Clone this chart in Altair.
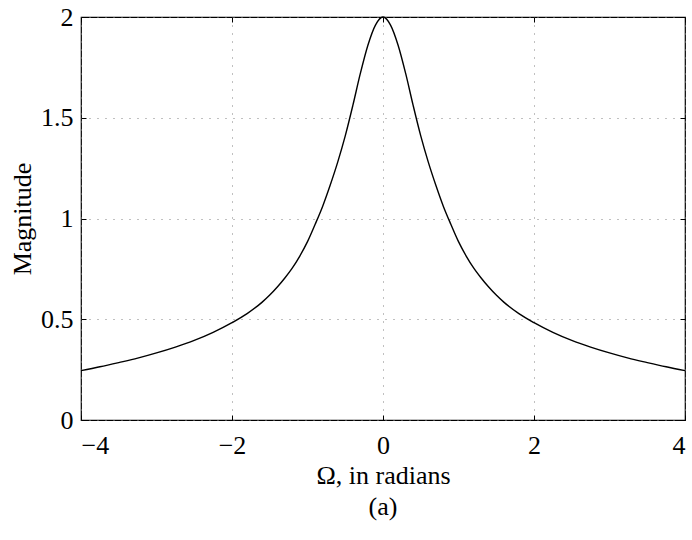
import altair as alt
import pandas as pd

# Magnitude of the response, read at positive frequencies (radians);
# the response is even, so the negative half mirrors it.
omega_pos = [0.0, 0.1, 0.2, 0.3, 0.4, 0.5, 0.6, 0.7, 0.8, 0.9, 1.0, 1.1, 1.2, 1.3,
             1.4, 1.5, 1.6, 1.8, 2.0, 2.25, 2.5, 2.75, 3.0, 3.25, 3.5, 3.75, 4.0]
magnitude_pos = [2.0, 1.96, 1.86, 1.72, 1.56, 1.41, 1.28, 1.165, 1.06, 0.97, 0.885,
                 0.815, 0.755, 0.705, 0.66, 0.62, 0.585, 0.528, 0.483, 0.435, 0.395,
                 0.362, 0.333, 0.307, 0.285, 0.264, 0.245]

omega = [-w for w in reversed(omega_pos[1:])] + omega_pos
magnitude = list(reversed(magnitude_pos[1:])) + magnitude_pos

x_ticks = [-4, -2, 0, 2, 4]
y_ticks = [0, 0.5, 1, 1.5, 2]

df = pd.DataFrame({"omega": omega, "magnitude": magnitude})

W, H = 604, 403
FONT = "Liberation Serif"
FS = 26

xs = alt.Scale(domain=[-4, 4], nice=False, zero=False)
ys = alt.Scale(domain=[0, 2], nice=False)

base = alt.Chart(df)

curve = base.mark_line(color="black", strokeWidth=1.4, interpolate="monotone").encode(
    x=alt.X("omega:Q", scale=xs, title="Ω, in radians",
            axis=alt.Axis(values=x_ticks, ticks=False, domain=False, labelPadding=12,
                          labelExpr="datum.value < 0 ? '\u2212' + format(-datum.value, 'd') : format(datum.value, 'd')",
                          grid=True, gridColor="#808080", gridDash=[1, 7], gridWidth=1,
                          titlePadding=4)),
    y=alt.Y("magnitude:Q", scale=ys, title="Magnitude",
            axis=alt.Axis(values=y_ticks, ticks=False, domain=False, labelPadding=8,
                          labelExpr="format(datum.value, '')",
                          grid=True, gridColor="#808080", gridDash=[1, 7], gridWidth=1,
                          titlePadding=5)),
)

# short tick marks pointing into the box on all four sides
def tick_axis(orient, vals):
    return alt.Axis(orient=orient, values=vals, labels=False, domain=False,
                    grid=False, ticks=True, tickSize={"expr": "-5"},
                    tickColor="black", tickWidth=1, title=None)

ticks_lb = base.mark_line(opacity=0).encode(
    x=alt.X("omega:Q", scale=xs, axis=tick_axis("bottom", x_ticks)),
    y=alt.Y("magnitude:Q", scale=ys, axis=tick_axis("left", y_ticks)),
)
ticks_rt = base.mark_line(opacity=0).encode(
    x=alt.X("omega:Q", scale=xs, axis=tick_axis("top", x_ticks)),
    y=alt.Y("magnitude:Q", scale=ys, axis=tick_axis("right", y_ticks)),
)

chart = (
    alt.layer(curve, ticks_lb, ticks_rt)
    .resolve_axis(x="independent", y="independent")
    .properties(
        width=W, height=H,
        background="white",
        autosize=alt.AutoSizeParams(type="none"),
        padding={"left": 81, "top": 17, "right": 7, "bottom": 120},
        title=alt.TitleParams("(a)", orient="bottom", anchor="middle", offset=6,
                              font=FONT, fontSize=FS, fontWeight="normal", color="black"),
    )
    .configure_view(stroke="black", strokeWidth=1.2)
    .configure_axis(labelFont=FONT, labelFontSize=FS, labelColor="black",
                    titleFont=FONT, titleFontSize=FS, titleFontWeight="normal",
                    titleColor="black")
)

chart.save("out.html", embed_options={"renderer": "svg", "actions": False})
